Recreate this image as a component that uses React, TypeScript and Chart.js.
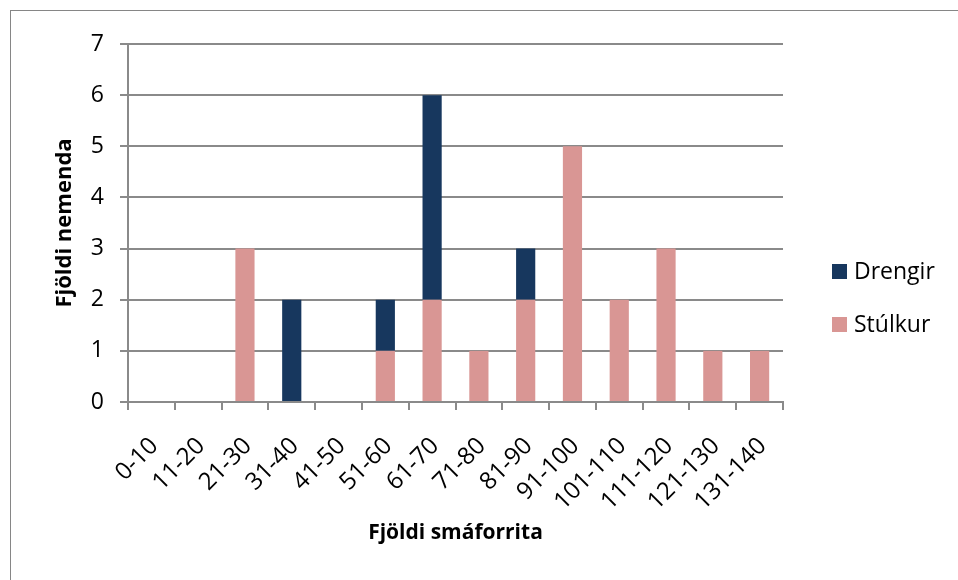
import React, { useEffect, useRef } from "react";
import { Chart, registerables } from "chart.js";

Chart.register(...registerables);

const categories = [
  "0-10", "11-20", "21-30", "31-40", "41-50", "51-60", "61-70",
  "71-80", "81-90", "91-100", "101-110", "111-120", "121-130", "131-140",
];
const stulkur = [0, 0, 3, 0, 0, 1, 2, 1, 2, 5, 2, 3, 1, 1];
const drengir = [0, 0, 0, 2, 0, 1, 4, 0, 1, 0, 0, 0, 0, 0];
const yMin = 0;
const yMax = 7;
const yStep = 1;

const PINK = "#D99694";
const NAVY = "#17375E";
const GRID = "#8a8a8a";
const FONT = "'Open Sans', Lato, sans-serif";

const legendPlugin = {
  id: "customLegend",
  afterDraw(chart: any) {
    const ctx = chart.ctx;
    const ds = [...chart.data.datasets].reverse();
    const x0 = chart.chartArea.right + 49;
    const y0 = 253;
    const gap = 53;
    const box = 15;
    ctx.save();
    ctx.font = `23px ${FONT}`;
    ctx.textBaseline = "middle";
    ctx.textAlign = "left";
    ds.forEach((d: any, i: number) => {
      const y = y0 + i * gap;
      ctx.fillStyle = d.backgroundColor;
      ctx.fillRect(x0, y, box, box);
      ctx.fillStyle = "#000";
      ctx.fillText(d.label, x0 + box + 7, y + box / 2 + 1);
    });
    ctx.restore();
  },
};

export default function App() {
  const ref = useRef<HTMLCanvasElement | null>(null);

  useEffect(() => {
    if (!ref.current) return;
    const chart = new Chart(ref.current, {
      type: "bar",
      data: {
        labels: categories,
        datasets: [
          { label: "Stúlkur", data: stulkur, backgroundColor: PINK, barPercentage: 0.41, categoryPercentage: 1 },
          { label: "Drengir", data: drengir, backgroundColor: NAVY, barPercentage: 0.41, categoryPercentage: 1 },
        ],
      },
      options: {
        animation: false,
        responsive: false,
        maintainAspectRatio: false,
        layout: { padding: { top: 33, left: 0, right: 175, bottom: 0 } },
        plugins: {
          legend: { display: false },
          tooltip: { enabled: false },
        },
        scales: {
          x: {
            stacked: true,
            afterFit: (s: any) => { s.height = 178; },
            grid: {
              display: true,
              drawOnChartArea: false,
              drawTicks: true,
              tickLength: 8,
              color: GRID,
              lineWidth: 2,
              offset: true,
            },
            border: { display: true, color: GRID, width: 2 },
            ticks: {
              minRotation: 45,
              maxRotation: 45,
              autoSkip: false,
              color: "#000",
              padding: 22,
              labelOffset: 3,
              font: { family: FONT, size: 24 },
            },
            title: {
              display: true,
              text: "Fjöldi smáforrita",
              color: "#000",
              font: { family: FONT, size: 21, weight: "bold" },
              padding: { top: 0, bottom: 34 },
            },
          },
          y: {
            stacked: true,
            min: yMin,
            max: yMax,
            afterFit: (s: any) => { s.width = 117; },
            grid: {
              color: GRID,
              lineWidth: 2,
              tickLength: 8,
              drawTicks: true,
            },
            border: { display: true, color: GRID, width: 2 },
            ticks: {
              stepSize: yStep,
              color: "#000",
              padding: 16,
              font: { family: FONT, size: 23 },
            },
            title: {
              display: true,
              text: "Fjöldi nemenda",
              color: "#000",
              font: { family: FONT, size: 22, weight: "bold" },
              padding: { top: 41, bottom: 0 },
            },
          },
        },
      },
      plugins: [legendPlugin],
    });
    return () => chart.destroy();
  }, []);

  return (
    <div style={{ position: "fixed", left: 0, top: 0, width: 958, height: 580, overflow: "hidden", background: "#fff" }}>
      <div
        style={{
          position: "absolute",
          left: 10,
          top: 10,
          width: 960,
          height: 590,
          borderLeft: "1px solid #868686",
          borderTop: "1px solid #868686",
        }}
      >
        <canvas ref={ref} width={947} height={569} style={{ display: "block", width: 947, height: 569 }} />
      </div>
    </div>
  );
}
